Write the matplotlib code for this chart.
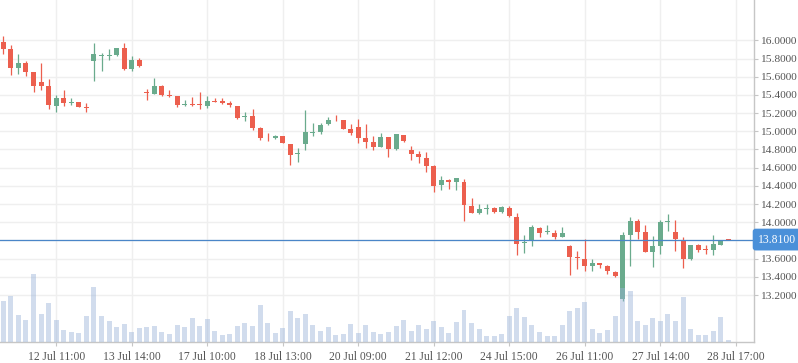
#!/usr/bin/env python3
"""Candlestick chart with volume overlay and last-price marker -> out.png"""

import matplotlib

matplotlib.use("Agg")
import matplotlib.pyplot as plt
import numpy as np

# one row per candle (index 0..96)
OPEN = [15.978, 15.901, 15.696, 15.747, 15.648, 15.538, 15.495, 15.278, 15.363, 15.315,
        15.319, 15.262, 15.773, 15.830, 15.830, 15.839, 15.912, 15.681, 15.780, 15.425,
        15.407, 15.495, 15.396, 15.385, 15.289, 15.290, 15.298, 15.283, 15.332, 15.334,
        15.312, 15.279, 15.158, 15.169, 15.034, 14.937, 14.927, 14.949, 14.862, 14.750,
        14.865, 14.986, 14.993, 15.081, 15.135, 15.122, 15.023, 15.048, 14.927, 14.885,
        14.830, 14.940, 14.808, 14.962, 14.797, 14.753, 14.709, 14.621, 14.412, 14.467,
        14.445, 14.445, 14.182, 14.105, 14.149, 14.160, 14.118, 14.160, 14.061, 13.775,
        13.790, 13.940, 13.890, 13.885, 13.834, 13.742, 13.612, 13.599, 13.515, 13.555,
        13.522, 13.456, 13.156, 13.863, 14.017, 13.896, 13.669, 13.735, 14.004, 13.896,
        13.808, 13.600, 13.753, 13.700, 13.698, 13.753, 13.812]
HIGH = [16.044, 15.945, 15.846, 15.769, 15.648, 15.751, 15.571, 15.396, 15.450, 15.363,
        15.319, 15.308, 15.967, 15.857, 15.901, 15.912, 15.967, 15.824, 15.802, 15.462,
        15.582, 15.505, 15.450, 15.385, 15.345, 15.382, 15.433, 15.389, 15.367, 15.367,
        15.334, 15.279, 15.213, 15.246, 15.048, 14.982, 14.960, 14.949, 14.862, 14.818,
        15.235, 15.089, 15.096, 15.155, 15.180, 15.129, 15.081, 15.136, 15.082, 14.951,
        14.984, 14.940, 14.973, 14.962, 14.841, 14.786, 14.775, 14.632, 14.511, 14.478,
        14.489, 14.478, 14.270, 14.204, 14.204, 14.171, 14.175, 14.184, 14.105, 13.863,
        13.973, 13.951, 13.973, 13.918, 13.951, 13.753, 13.680, 13.815, 13.599, 13.555,
        13.533, 13.467, 13.889, 14.061, 14.039, 13.973, 13.852, 14.028, 14.094, 14.028,
        13.841, 13.753, 13.764, 13.753, 13.863, 13.808, 13.812]
LOW = [15.846, 15.615, 15.630, 15.608, 15.432, 15.450, 15.242, 15.212, 15.275, 15.289,
       15.264, 15.212, 15.553, 15.663, 15.784, 15.828, 15.674, 15.659, 15.707, 15.340,
       15.407, 15.388, 15.374, 15.267, 15.275, 15.278, 15.250, 15.261, 15.327, 15.301,
       15.272, 15.136, 15.114, 15.015, 14.909, 14.898, 14.913, 14.869, 14.634, 14.664,
       14.796, 14.953, 14.975, 15.070, 15.117, 15.026, 14.964, 14.876, 14.820, 14.798,
       14.830, 14.720, 14.797, 14.878, 14.687, 14.654, 14.555, 14.335, 14.357, 14.368,
       14.357, 14.017, 14.105, 14.094, 14.094, 14.105, 14.100, 14.061, 13.643, 13.667,
       13.744, 13.843, 13.872, 13.819, 13.834, 13.416, 13.489, 13.467, 13.460, 13.493,
       13.431, 13.398, 13.138, 13.522, 13.815, 13.669, 13.511, 13.647, 13.907, 13.687,
       13.500, 13.581, 13.676, 13.654, 13.643, 13.753, 13.805]
CLOSE = [15.905, 15.696, 15.747, 15.652, 15.498, 15.498, 15.289, 15.363, 15.311, 15.320,
         15.264, 15.258, 15.846, 15.833, 15.834, 15.912, 15.681, 15.780, 15.718, 15.421,
         15.495, 15.396, 15.392, 15.289, 15.295, 15.286, 15.293, 15.334, 15.327, 15.316,
         15.290, 15.151, 15.162, 15.041, 14.931, 14.933, 14.949, 14.872, 14.741, 14.754,
         14.993, 14.990, 15.070, 15.121, 15.130, 15.030, 14.986, 14.931, 14.886, 14.831,
         14.940, 14.808, 14.973, 14.896, 14.753, 14.720, 14.621, 14.401, 14.467, 14.445,
         14.489, 14.193, 14.105, 14.149, 14.151, 14.116, 14.164, 14.072, 13.766, 13.777,
         13.951, 13.887, 13.892, 13.843, 13.885, 13.614, 13.608, 13.515, 13.555, 13.526,
         13.460, 13.405, 13.863, 14.017, 13.896, 13.669, 13.742, 14.006, 14.006, 13.819,
         13.600, 13.753, 13.698, 13.696, 13.764, 13.808, 13.810]
VOLUME = [124, 140, 82, 67, 205, 85, 118, 67, 37, 32, 28, 79, 166, 79, 64, 46, 55, 31, 43, 46,
          49, 31, 25, 52, 46, 73, 49, 70, 34, 22, 25, 49, 58, 49, 112, 58, 28, 43, 94, 73,
          85, 52, 34, 46, 22, 25, 55, 28, 52, 31, 25, 31, 49, 67, 34, 52, 40, 64, 46, 28,
          61, 97, 58, 40, 19, 19, 25, 79, 103, 76, 52, 31, 19, 19, 52, 94, 103, 121, 40, 28,
          37, 79, 163, 154, 64, 52, 73, 64, 85, 64, 136, 40, 22, 22, 34, 76, 7]

TICK_IDX = [7, 17, 27, 37, 47, 57, 67, 77, 87, 97]
TICK_LABELS = ["12 Jul 11:00", "13 Jul 14:00", "17 Jul 10:00", "18 Jul 13:00",
               "20 Jul 09:00", "21 Jul 12:00", "24 Jul 15:00", "26 Jul 11:00",
               "27 Jul 14:00", "28 Jul 17:00"]
PRICE_TICKS = [13.2, 13.4, 13.6, 13.8, 14.0, 14.2, 14.4, 14.6, 14.8,
               15.0, 15.2, 15.4, 15.6, 15.8, 16.0]
LAST_PRICE = 13.81

UP, DOWN = "#6aab8d", "#ec5f4e"
AXIS, GRID, TXT = "#c6c6c6", "#efefef", "#555555"

plt.rcParams["font.family"] = ["Liberation Serif", "DejaVu Serif"]


def main():
    o, h, l, c = map(np.asarray, (OPEN, HIGH, LOW, CLOSE))
    x = np.arange(len(o))
    cols = np.where(c >= o, UP, DOWN)

    fig = plt.figure(figsize=(7.98, 3.63), dpi=100)
    ax = fig.add_axes([0, 20.7 / 363, 754 / 798, 342.3 / 363])
    ax.set_xlim(-0.44, 99.4)
    ax.set_ylim(12.681, 16.443)

    # volume overlay (twinx first: it moves the host's ticks to the left)
    vax = ax.twinx()
    vax.set_ylim(0, 342.3 * 3)
    vax.bar(x, VOLUME, width=0.66, color=(0.6, 0.7, 0.85), alpha=0.45, lw=0)
    vax.set_yticks([])
    for s in vax.spines.values():
        s.set_visible(False)

    # grid
    for t in PRICE_TICKS:
        ax.axhline(t, color=GRID, lw=1, zorder=0)
    for t in TICK_IDX:
        ax.axvline(t, color=GRID, lw=1, zorder=0)

    # candles
    ax.vlines(x, l, h, colors=cols, lw=0.9, zorder=2)
    body = np.maximum(np.abs(c - o), 0.009)
    ax.bar(x, body, bottom=np.minimum(o, c), width=0.66, color=cols, lw=0, zorder=3)

    # last price line + label
    ax.axhline(LAST_PRICE, color="#4a86c8", lw=0.9, zorder=4)
    vax.annotate(f"{LAST_PRICE:.4f}", xy=(1.0, LAST_PRICE),
                 xycoords=("axes fraction", ax.transData),
                 xytext=(2.6, 0), textcoords="offset points", ha="left", va="center",
                 color="white", fontsize=8.4, zorder=10, annotation_clip=False,
                 bbox=dict(boxstyle="round,pad=0.42,rounding_size=0.25",
                           fc="#4a90d9", ec="none"))

    # axes styling
    for s in ("top", "left"):
        ax.spines[s].set_visible(False)
    for s in ("right", "bottom"):
        ax.spines[s].set_color(AXIS)
        ax.spines[s].set_linewidth(1)
    ax.yaxis.tick_right()
    ax.set_yticks(PRICE_TICKS)
    # the 13.8 label sits under the last-price box, so leave it blank
    ax.set_yticklabels(["" if abs(t - LAST_PRICE) < 0.05 else f"{t:.4f}"
                        for t in PRICE_TICKS])
    ax.set_xticks(TICK_IDX)
    ax.set_xticklabels(TICK_LABELS)
    ax.tick_params(axis="y", length=3, width=0.8, color=AXIS, labelcolor=TXT,
                   labelsize=8.2, pad=1.5)
    ax.tick_params(axis="x", length=3, width=0.8, color=AXIS, labelcolor=TXT,
                   labelsize=8.4, pad=3)

    fig.savefig("out.png", dpi=100)
    plt.close(fig)


if __name__ == "__main__":
    main()
